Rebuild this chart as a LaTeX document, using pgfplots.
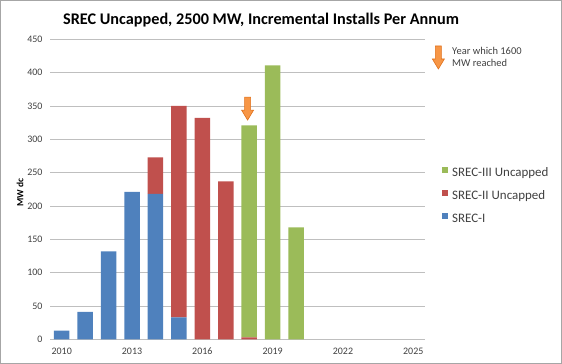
\documentclass[border=0pt]{standalone}
\usepackage{fontspec}
\setmainfont{Carlito}
\usepackage{pgfplots}
\pgfplotsset{compat=1.18}
\definecolor{sblue}{HTML}{4F81BD}
\definecolor{sred}{HTML}{C0504D}
\definecolor{sgreen}{HTML}{9BBB59}
\definecolor{sorange}{HTML}{F79646}
\definecolor{sorangedk}{HTML}{E0701A}
\definecolor{gridgray}{HTML}{BFBFBF}
\definecolor{txtgray}{HTML}{404040}
\pgfdeclareplotmark{darrow}{%
  \pgfpathmoveto{\pgfqpoint{-3bp}{11.5bp}}%
  \pgfpathlineto{\pgfqpoint{3bp}{11.5bp}}%
  \pgfpathlineto{\pgfqpoint{3bp}{-1.5bp}}%
  \pgfpathlineto{\pgfqpoint{6bp}{-1.5bp}}%
  \pgfpathlineto{\pgfqpoint{0bp}{-11.5bp}}%
  \pgfpathlineto{\pgfqpoint{-6bp}{-1.5bp}}%
  \pgfpathlineto{\pgfqpoint{-3bp}{-1.5bp}}%
  \pgfpathclose
  \pgfusepathqfillstroke}
\begin{document}
\begin{tikzpicture}
\useasboundingbox (-50bp,-24.7bp) rectangle (512bp,339.3bp);
\draw[gray!70, line width=0.8bp] (-49.6bp,-24.3bp) rectangle (511.6bp,338.9bp);
\begin{axis}[
  at={(0,0)}, anchor=south west,
  scale only axis, width=375bp, height=300bp,
  ybar stacked, bar width=0.66,
  xmin=2009.5, xmax=2025.5, ymin=0, ymax=450,
  xtick={2010,2013,2016,2019,2022,2025},
  ytick={0,50,...,450},
  xticklabel style={/pgf/number format/1000 sep={}, yshift=-5bp},
  yticklabel style={xshift=-4bp},
  /pgf/number format/assume math mode=true,
  ticklabel style={font=\fontsize{10}{12}\selectfont, text=txtgray},
  major tick length=0pt,
  axis lines*=left,
  y axis line style={draw=none},
  x axis line style={draw=gridgray, line width=0.8bp},
  ymajorgrids, grid style={draw=gridgray, line width=0.8bp},
  clip=false,
  reverse legend,
  legend cell align=left,
  legend image code/.code={\fill[#1] (0bp,0bp) rectangle (6.6bp,6.6bp);},
  legend style={draw=none, fill=none, inner sep=0pt, at={(1.0445,0.4777)}, anchor=west,
    font=\fontsize{13}{15}\selectfont, text=txtgray, row sep=10.5bp, column sep=3.7bp,
    nodes={inner sep=0pt, text height=9bp, text depth=3bp}},
]
\addplot[fill=sblue, draw=none] coordinates {(2010,13) (2011,41) (2012,132) (2013,221) (2014,218) (2015,33) (2016,0) (2017,0) (2018,0) (2019,0) (2020,0)};
\addlegendentry{SREC-I}
\addplot[fill=sred, draw=none] coordinates {(2010,0) (2011,0) (2012,0) (2013,0) (2014,55) (2015,317) (2016,332) (2017,237) (2018,3) (2019,0) (2020,0)};
\addlegendentry{SREC-II Uncapped}
\addplot[fill=sgreen, draw=none] coordinates {(2010,0) (2011,0) (2012,0) (2013,0) (2014,0) (2015,0) (2016,0) (2017,0) (2018,318) (2019,411) (2020,168)};
\addlegendentry{SREC-III Uncapped}
\end{axis}
\begin{axis}[
  at={(0,0)}, anchor=south west,
  scale only axis, width=375bp, height=300bp,
  xmin=2009.5, xmax=2025.5, ymin=0, ymax=450,
  hide axis, clip=false,
]
\addplot[only marks, mark=darrow, mark options={fill=sorange, draw=sorangedk, line width=0.6bp}]
  coordinates {(2017.93,346) (2026.07,422.7)};
\end{axis}
\node[anchor=base west, inner sep=0pt, font=\fontsize{10.5}{12}\selectfont, text=txtgray] at (402bp,284.3bp) {Year which 1600};
\node[anchor=base west, inner sep=0pt, font=\fontsize{10.5}{12}\selectfont, text=txtgray] at (402bp,272.6bp) {MW reached};
\node[anchor=base, inner sep=0pt, font=\bfseries\fontsize{16.3}{20}\selectfont] at (211bp,314.3bp) {SREC Uncapped, 2500 MW, Incremental Installs Per Annum};
\node[rotate=90, inner sep=0pt, font=\bfseries\fontsize{9.5}{11}\selectfont] at (-30bp,147bp) {MW dc};
\end{tikzpicture}
\end{document}
